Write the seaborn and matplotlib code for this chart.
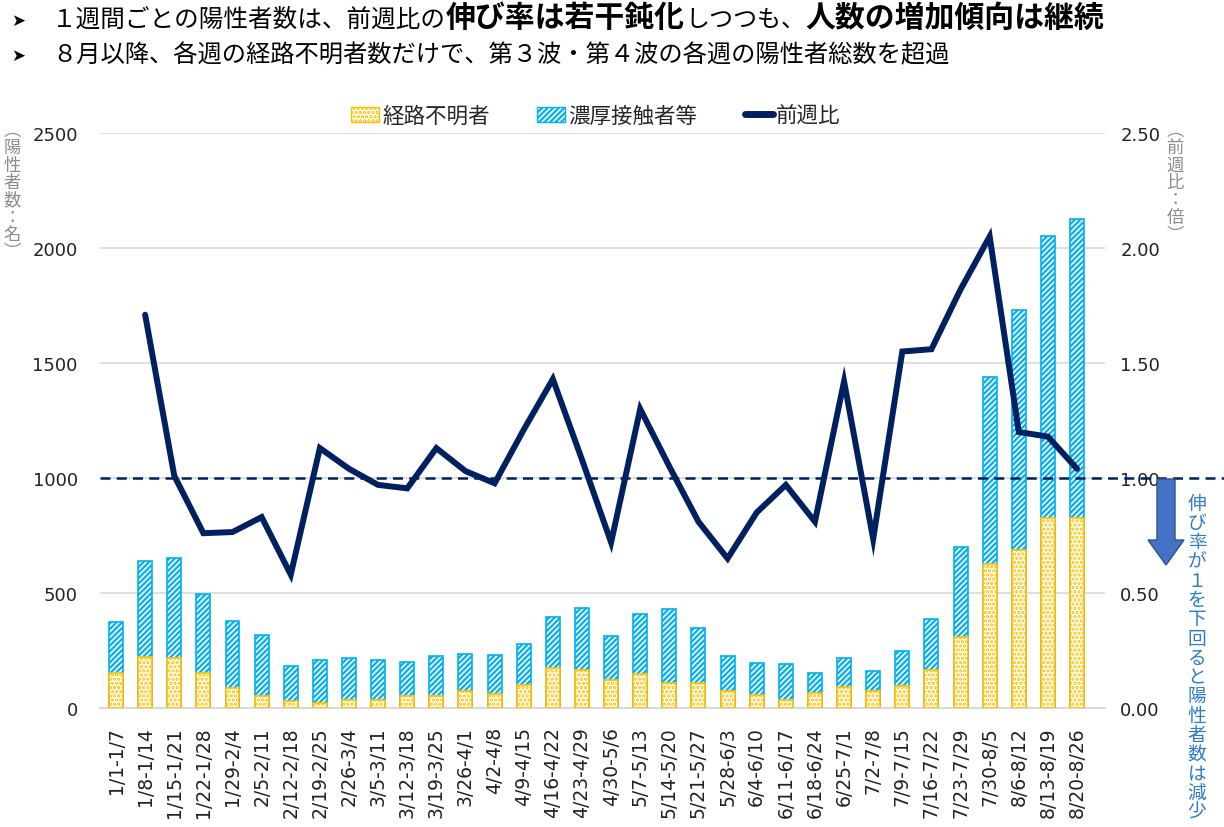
import numpy as np
import pandas as pd
import seaborn as sns
import matplotlib.pyplot as plt
import matplotlib.patches as mpatches
import matplotlib.transforms as mtransforms
from matplotlib.lines import Line2D

weeks = ["1/1-1/7", "1/8-1/14", "1/15-1/21", "1/22-1/28", "1/29-2/4", "2/5-2/11",
         "2/12-2/18", "2/19-2/25", "2/26-3/4", "3/5-3/11", "3/12-3/18", "3/19-3/25",
         "3/26-4/1", "4/2-4/8", "4/9-4/15", "4/16-4/22", "4/23-4/29", "4/30-5/6",
         "5/7-5/13", "5/14-5/20", "5/21-5/27", "5/28-6/3", "6/4-6/10", "6/11-6/17",
         "6/18-6/24", "6/25-7/1", "7/2-7/8", "7/9-7/15", "7/16-7/22", "7/23-7/29",
         "7/30-8/5", "8/6-8/12", "8/13-8/19", "8/20-8/26"]

# 経路不明者
unknown = [152, 223, 219, 152, 87, 54, 30, 23, 36, 36, 54, 54, 74, 62, 100, 175, 165,
           123, 149, 109, 109, 75, 58, 36, 65, 91, 75, 97, 165, 310, 628, 688, 826, 826]
# 濃厚接触者等
contact = [221, 415, 432, 342, 290, 262, 151, 184, 180, 171, 145, 171, 159, 167, 177, 219,
           268, 189, 258, 320, 237, 150, 136, 154, 86, 125, 84, 149, 221, 390, 810, 1041,
           1225, 1300]
# 前週比
ratio = [np.nan, 1.71, 1.01, 0.76, 0.765, 0.83, 0.58, 1.13, 1.04, 0.97, 0.955, 1.13, 1.03,
         0.977, 1.21, 1.43, 1.08, 0.72, 1.30, 1.05, 0.81, 0.65, 0.85, 0.97, 0.81, 1.42,
         0.735, 1.55, 1.56, 1.82, 2.05, 1.20, 1.18, 1.04]

left_ticks = [0, 500, 1000, 1500, 2000, 2500]
right_ticks = [0.0, 0.5, 1.0, 1.5, 2.0, 2.5]

df = pd.DataFrame({"week": weeks, "unknown": unknown, "contact": contact, "ratio": ratio})
df["total"] = df["unknown"] + df["contact"]
df["pos"] = np.arange(len(df))

sns.set_theme(style="white")
plt.rcParams["font.family"] = ["Noto Sans CJK JP", "DejaVu Sans"]
plt.rcParams["hatch.linewidth"] = 1.6

YEL = "#FFC000"
BLU = "#00B0F0"
NAVY = "#002060"
JP = ["Noto Sans CJK JP", "DejaVu Sans"]

W, H = 1224, 828
fig = plt.figure(figsize=(W / 100, H / 100), dpi=100)
ax = fig.add_axes([100 / W, 1 - 709 / H, 1005 / W, 575 / H])

sns.barplot(data=df, x="week", y="total", color="white", saturation=1, edgecolor=BLU,
            hatch="//////", linewidth=1.2, width=0.48, errorbar=None, ax=ax, zorder=2)
sns.barplot(data=df, x="week", y="unknown", color="white", saturation=1, edgecolor=YEL,
            hatch="....", linewidth=1.2, width=0.48, errorbar=None, ax=ax, zorder=3)

ax.set_xlim(-0.55, 33.96)
ax.set_ylim(0, 2500)
ax.set_yticks(left_ticks)
ax.set_yticklabels([str(v) for v in left_ticks], fontsize=13, family="DejaVu Sans",
                   color="#222222")
ax.set_xticks(range(len(weeks)))
ax.set_xticklabels(weeks, rotation=90, fontsize=13.5, family="DejaVu Sans", color="#222222")
ax.tick_params(axis="both", length=0)
ax.tick_params(axis="y", pad=16)
ax.tick_params(axis="x", pad=13)
ax.set_xlabel("")
ax.set_ylabel("")
ax.grid(axis="y", color="#D9D9D9", linewidth=1.2, zorder=0)
ax.set_axisbelow(True)
for s in ["left", "right", "top"]:
    ax.spines[s].set_visible(False)
ax.spines["bottom"].set_color("#D9D9D9")
ax.spines["bottom"].set_linewidth(1.5)

ax2 = ax.twinx()
sns.lineplot(data=df, x="pos", y="ratio", color=NAVY, linewidth=4.3, ax=ax2,
             solid_joinstyle="miter", zorder=5)
ax2.axhline(1.0, xmin=0, xmax=(W - 100) / 1005, color=NAVY, linewidth=1.8,
            linestyle=(0, (4, 2.5)), clip_on=False, zorder=4)
ax2.set_ylim(0, 2.5)
ax2.set_yticks(right_ticks)
ax2.set_yticklabels([f"{v:.2f}" for v in right_ticks], fontsize=13, family="DejaVu Sans",
                    color="#222222")
ax2.tick_params(axis="y", length=0, pad=11)
ax2.set_xlabel("")
ax2.set_ylabel("")
ax2.grid(False)
for s in ["left", "right", "top", "bottom"]:
    ax2.spines[s].set_visible(False)
ax2.set_xlim(-0.55, 33.96)

# legend
handles = [mpatches.Patch(facecolor="white", edgecolor=YEL, hatch="...."),
           mpatches.Patch(facecolor="white", edgecolor=BLU, hatch="//////"),
           Line2D([0], [0], color=NAVY, linewidth=5)]
fig.legend(handles, ["経路不明者", "濃厚接触者等", "前週比"], loc="center",
           bbox_to_anchor=(596 / W, 1 - 117 / H), ncol=3, frameon=False,
           prop={"family": JP, "size": 15.5}, handlelength=1.3, handletextpad=0.15,
           columnspacing=2.2)

# vertical axis titles
fig.text(12 / W, 1 - 122 / H, "\n".join("︵陽性者数：名︶"), ha="center", va="top",
         fontsize=12.5, color="#8C8C8C", linespacing=0.95, family=JP)
fig.text(1175 / W, 1 - 122 / H, "\n".join("︵前週比：倍︶"), ha="center", va="top",
         fontsize=12.5, color="#8C8C8C", linespacing=0.95, family=JP)
fig.text(1197 / W, 1 - 494 / H, "\n".join("伸び率が１を下回ると陽性者数は減少"),
         ha="center", va="top", fontsize=13.5, color="#2E7BCF", linespacing=0.89, family=JP)

# block arrow
arrow_px = [(1157, 480), (1175, 480), (1175, 541), (1184, 541), (1166, 566),
            (1148, 541), (1157, 541)]
arrow = mpatches.Polygon([(px / W, 1 - py / H) for px, py in arrow_px], closed=True,
                         facecolor="#4472C4", edgecolor="#2F528F", linewidth=1,
                         transform=fig.transFigure)
fig.patches.append(arrow)

# headline text
renderer = fig.canvas.get_renderer()
ident = mtransforms.IdentityTransform()


def draw_line(x, y, pieces):
    for txt, size, weight in pieces:
        t = fig.text(x, H - y, txt, transform=ident, fontsize=size, fontweight=weight,
                     family=JP, color="black", va="baseline", ha="left")
        x = t.get_window_extent(renderer).x1


fig.text(11, H - 26, "➤", transform=ident, fontsize=12, family=["DejaVu Sans"],
         va="baseline", color="black")
fig.text(11, H - 61, "➤", transform=ident, fontsize=12, family=["DejaVu Sans"],
         va="baseline", color="black")
draw_line(52, 27, [("１週間ごとの陽性者数は、前週比の", 17.7, "normal"),
                   ("伸び率は若干鈍化", 21.5, "bold"),
                   ("しつつも、", 17.3, "normal"),
                   ("人数の増加傾向は継続", 21.5, "bold")])
draw_line(52, 62, [("８月以降、各週の経路不明者数だけで、第３波・第４波の各週の陽性者総数を超過",
                    17.5, "normal")])

fig.savefig("out.png", dpi=100)
